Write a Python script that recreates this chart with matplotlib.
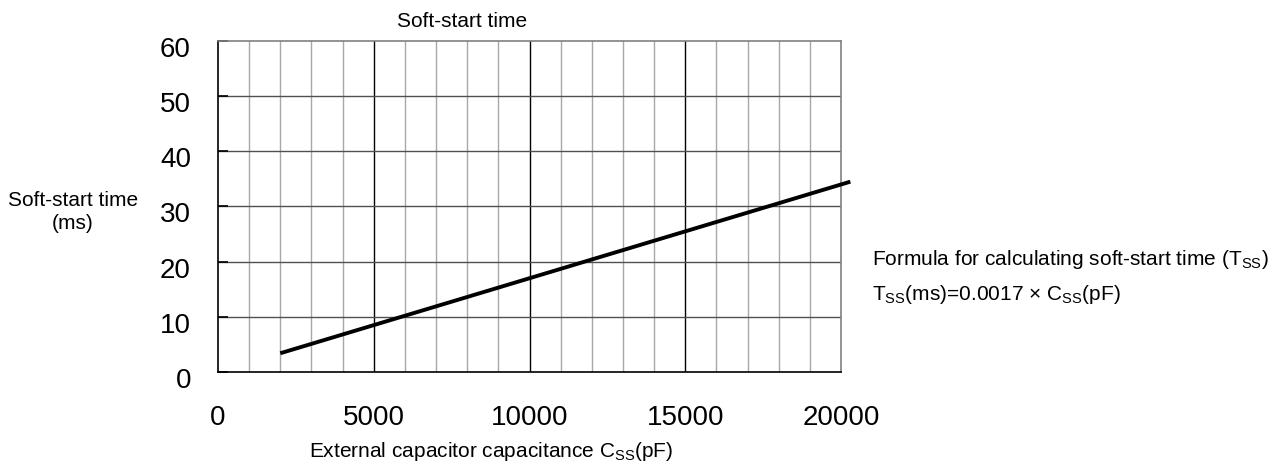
import matplotlib
matplotlib.use('Agg')
import matplotlib.pyplot as plt
from matplotlib.transforms import ScaledTranslation

plt.rcParams['font.family'] = ['Liberation Sans', 'DejaVu Sans']
plt.rcParams['mathtext.fontset'] = 'custom'
plt.rcParams['mathtext.rm'] = 'Liberation Sans'
plt.rcParams['mathtext.it'] = 'Liberation Sans'

# line data (external capacitance pF -> soft-start time ms)
css = [2000, 20300]
tss = [3.4, 34.5]

xticks = [0, 5000, 10000, 15000, 20000]
yticks = [0, 10, 20, 30, 40, 50, 60]
minor_x = list(range(1000, 20000, 1000))

W, H = 1272, 461
fig = plt.figure(figsize=(W/100, H/100), dpi=100)
ax = fig.add_axes([218/W, 1-372/H, (841-218)/W, (372-41)/H])

ax.set_xlim(0, 20000)
ax.set_ylim(0, 60)

# grid: light minor lines every 1000, black every 5000
for x in minor_x:
    c = 'black' if x % 5000 == 0 else '#a8a8a8'
    ax.axvline(x, color=c, lw=1.0, zorder=1)
for y in yticks[1:-1]:
    ax.axhline(y, color='#505050', lw=1.0, zorder=1)

ax.plot(css, tss, color='black', lw=2.8, clip_on=False, zorder=3, solid_capstyle='butt')

ax.set_xticks(xticks)
ax.set_yticks(yticks)
ax.tick_params(axis='x', length=0, labelsize=20, pad=23.5)
ax.tick_params(axis='y', direction='in', length=7, width=1.2, color='black', labelsize=20, pad=19.5)

# y labels sit a few pixels below their gridlines
off = ScaledTranslation(0, -6/100, fig.dpi_scale_trans)
for lab in ax.get_yticklabels():
    lab.set_transform(lab.get_transform() + off)

ax.spines['left'].set_color('black')
ax.spines['bottom'].set_color('black')
ax.spines['top'].set_color('#808080')
ax.spines['right'].set_color('#808080')
for s in ax.spines.values():
    s.set_linewidth(1.2)

fs = 15
fig.text(397/W, 1-27/H, 'Soft-start time', ha='left', va='baseline', fontsize=fs)
fig.text(73/W, 1-206/H, 'Soft-start time', ha='center', va='baseline', fontsize=fs)
fig.text(73/W, 1-229/H, '(ms)', ha='center', va='baseline', fontsize=fs)
fig.text(309/W, 1-457/H, r'External capacitor capacitance C$_{\mathrm{SS}}$(pF)', ha='left', va='baseline', fontsize=fs)
fig.text(872/W, 1-265/H, r'Formula for calculating soft-start time (T$_{\mathrm{SS}}$)', ha='left', va='baseline', fontsize=fs)
fig.text(872/W, 1-300/H, r'T$_{\mathrm{SS}}$(ms)=0.0017 $\times$ C$_{\mathrm{SS}}$(pF)', ha='left', va='baseline', fontsize=fs)

fig.savefig('out.png', dpi=100)
